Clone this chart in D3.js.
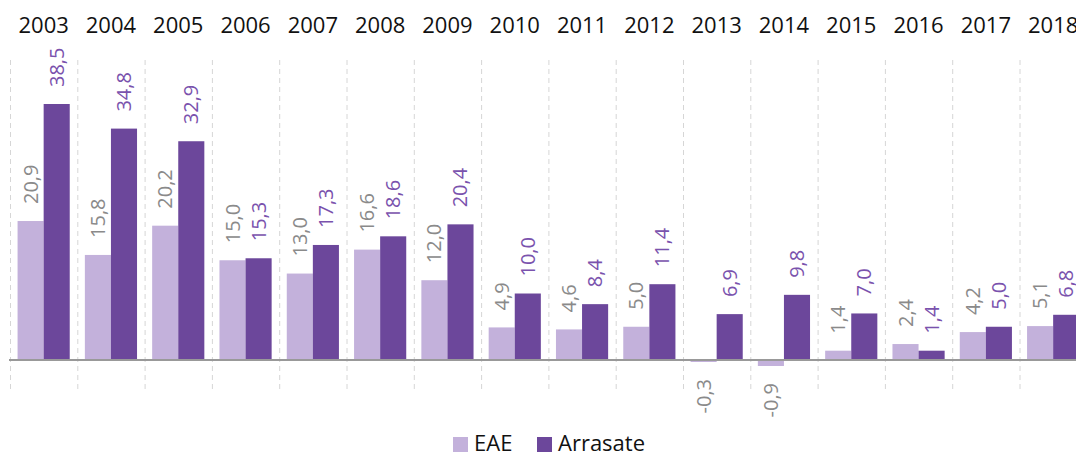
<!DOCTYPE html>
<html>
<head>
<meta charset="utf-8">
<script src="https://cdn.jsdelivr.net/npm/d3@7"></script>
<style>
  body { margin: 0; background: #fff; }
  svg { display: block; font-family: "Open Sans", "Noto Sans", sans-serif; }
</style>
</head>
<body>
<script>
// datos
const years = ['2003', '2004', '2005', '2006', '2007', '2008', '2009', '2010',
  '2011', '2012', '2013', '2014', '2015', '2016', '2017', '2018'];
const seriesNames = ['EAE', 'Arrasate'];
const eae = [20.9, 15.8, 20.2, 15.0, 13.0, 16.6, 12.0, 4.9, 4.6, 5.0, -0.3, -0.9, 1.4, 2.4, 4.2, 5.1];
const arrasate = [38.5, 34.8, 32.9, 15.3, 17.3, 18.6, 20.4, 10.0, 8.4, 11.4, 6.9, 9.8, 7.0, 1.4, 5.0, 6.8];

const width = 1076, height = 457;
const barColors = ['#c3b1db', '#6c479b'];
const labelColors = ['#8a8a8a', '#7a52ad'];

const svg = d3.select('body').append('svg')
  .attr('width', width)
  .attr('height', height);

// escalas
const step = 67.3;
const x = d3.scaleBand()
  .domain(years)
  .range([10, 10 + step * years.length])
  .paddingInner(0)
  .paddingOuter(0);

const xInner = d3.scaleBand()
  .domain(seriesNames)
  .range([0, x.bandwidth()])
  .paddingInner(0)
  .paddingOuter(0.29);

const y = d3.scaleLinear()
  .domain([0, 38.5])
  .range([360, 104]);

// separadores discontinuos
svg.append('g')
  .selectAll('line')
  .data(years)
  .enter()
  .append('line')
  .attr('x1', d => x(d) + 0.5)
  .attr('x2', d => x(d) + 0.5)
  .attr('y1', 60)
  .attr('y2', 393)
  .attr('stroke', '#d6d6d6')
  .attr('stroke-width', 1)
  .attr('stroke-dasharray', '5,4');

// años arriba
svg.append('g')
  .selectAll('text')
  .data(years)
  .enter()
  .append('text')
  .attr('x', d => x(d) + x.bandwidth() / 2)
  .attr('y', 33)
  .attr('text-anchor', 'middle')
  .attr('font-size', '22px')
  .attr('fill', '#111')
  .text(d => d);

const rows = [];
years.forEach((yr, i) => {
  rows.push({ year: yr, serie: 0, value: eae[i] });
  rows.push({ year: yr, serie: 1, value: arrasate[i] });
});

// barras
svg.append('g')
  .selectAll('rect')
  .data(rows)
  .enter()
  .append('rect')
  .attr('x', d => x(d.year) + xInner(seriesNames[d.serie]))
  .attr('width', xInner.bandwidth())
  .attr('y', d => Math.min(y(d.value), y(0)))
  .attr('height', d => Math.abs(y(d.value) - y(0)))
  .attr('fill', d => barColors[d.serie]);

// eje
svg.append('line')
  .attr('x1', 9)
  .attr('x2', width)
  .attr('y1', y(0))
  .attr('y2', y(0))
  .attr('stroke', '#999')
  .attr('stroke-width', 2);

// etiquetas de valor
const fmt = v => v.toFixed(1).replace('.', ',');
svg.append('g')
  .selectAll('text')
  .data(rows)
  .enter()
  .append('text')
  .attr('transform', d => {
    const cx = x(d.year) + xInner(seriesNames[d.serie]) + xInner.bandwidth() / 2;
    const cy = d.value >= 0 ? y(d.value) - 17 : y(d.value) + 17;
    return `translate(${cx},${cy}) rotate(-90)`;
  })
  .attr('dy', '0.35em')
  .attr('text-anchor', d => d.value >= 0 ? 'start' : 'end')
  .attr('font-size', '20px')
  .attr('fill', d => labelColors[d.serie])
  .text(d => fmt(d.value));

// leyenda
const legend = svg.append('g');
const legendX = [453, 537];
seriesNames.forEach((name, i) => {
  legend.append('rect')
    .attr('x', legendX[i])
    .attr('y', 437)
    .attr('width', 15)
    .attr('height', 15)
    .attr('fill', barColors[i]);
  legend.append('text')
    .attr('x', legendX[i] + 21)
    .attr('y', 451)
    .attr('font-size', '22px')
    .attr('fill', '#111')
    .text(name);
});
</script>
</body>
</html>
